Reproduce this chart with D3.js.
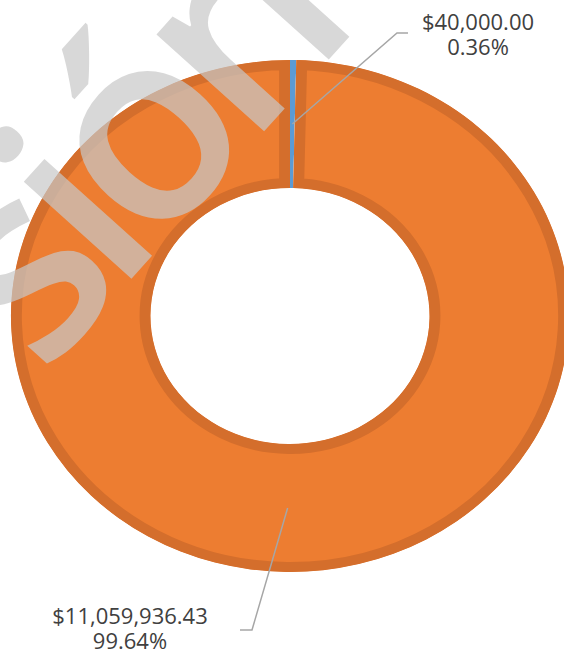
<!DOCTYPE html>
<html lang="es">
<head>
<meta charset="UTF-8">
<title>Donut</title>
<style>
  body { margin: 0; background: #fff; }
  svg { display: block; }
</style>
</head>
<body>
<svg width="564" height="652" id="viz"></svg>
<script src="https://d3js.org/d3.v7.min.js"></script>
<script>
// data
const categories = ["A", "B"];
const values = [40000, 11059936.43];
const amountLabels = ["$40,000.00", "$11,059,936.43"];
const pctLabels = ["0.36%", "99.64%"];

const colors = ["#5b9bd5", "#ed7d31"];
const borderColors = ["#4a86c0", "#d46e2c"];

const svg = d3.select("#viz");
const cx = 290, cy = 316, sx = 1.09;
const rIn = 128, rOut = 256;

const pie = d3.pie().sort(null).value(d => d.v);
const arcs = pie(categories.map((c, i) => ({c: c, v: values[i], i: i})));
const arc = d3.arc().innerRadius(rIn).outerRadius(rOut);

const g = svg.append("g")
  .attr("transform", `translate(${cx},${cy}) scale(${sx},1)`);

const defs = svg.append("defs");
arcs.forEach((d, i) => {
  defs.append("clipPath").attr("id", "clip" + i)
    .append("path").attr("d", arc(d));
});

g.selectAll(".slice")
  .data(arcs)
  .enter()
  .append("path")
    .attr("class", "slice")
    .attr("d", arc)
    .attr("clip-path", (d, i) => `url(#clip${i})`)
    .style("fill", d => colors[d.data.i])
    .style("stroke", d => d.data.i == 0 ? "none" : borderColors[d.data.i])
    .style("stroke-width", 20);

// watermark (cut by the edges like in the scan)
svg.append("text")
  .attr("transform", "translate(350,36) rotate(-48)")
  .style("text-anchor", "end")
  .text("sión")
  .style("font-family", "'Open Sans', sans-serif")
  .style("font-size", "268px")
  .style("font-weight", 600)
  .style("letter-spacing", "-20px")
  .style("fill", "#c8c8c8")
  .style("opacity", 0.7);

// leader lines + labels
const labelPos = [
  {lx: 397, ly: 33, ex: 408, tx: 478, ty: 30},
  {lx: 252, ly: 630, ex: 240, tx: 130, ty: 624}
];

arcs.forEach((d, i) => {
  const c = arc.centroid(d);
  const p = labelPos[i];
  svg.append("polyline")
    .attr("points", [[cx + c[0] * sx, cy + c[1]], [p.lx, p.ly], [p.ex, p.ly]].map(q => q.join(",")).join(" "))
    .style("fill", "none")
    .style("stroke", "#a6a6a6")
    .style("stroke-width", 1.5);

  const t = svg.append("text")
    .attr("x", p.tx)
    .attr("y", p.ty)
    .style("text-anchor", "middle")
    .style("font-family", "'Open Sans', sans-serif")
    .style("font-size", "22px")
    .style("fill", "#404040");
  t.append("tspan").attr("x", p.tx).text(amountLabels[i]);
  t.append("tspan").attr("x", p.tx).attr("dy", 25).text(pctLabels[i]);
});
</script>
</body>
</html>
